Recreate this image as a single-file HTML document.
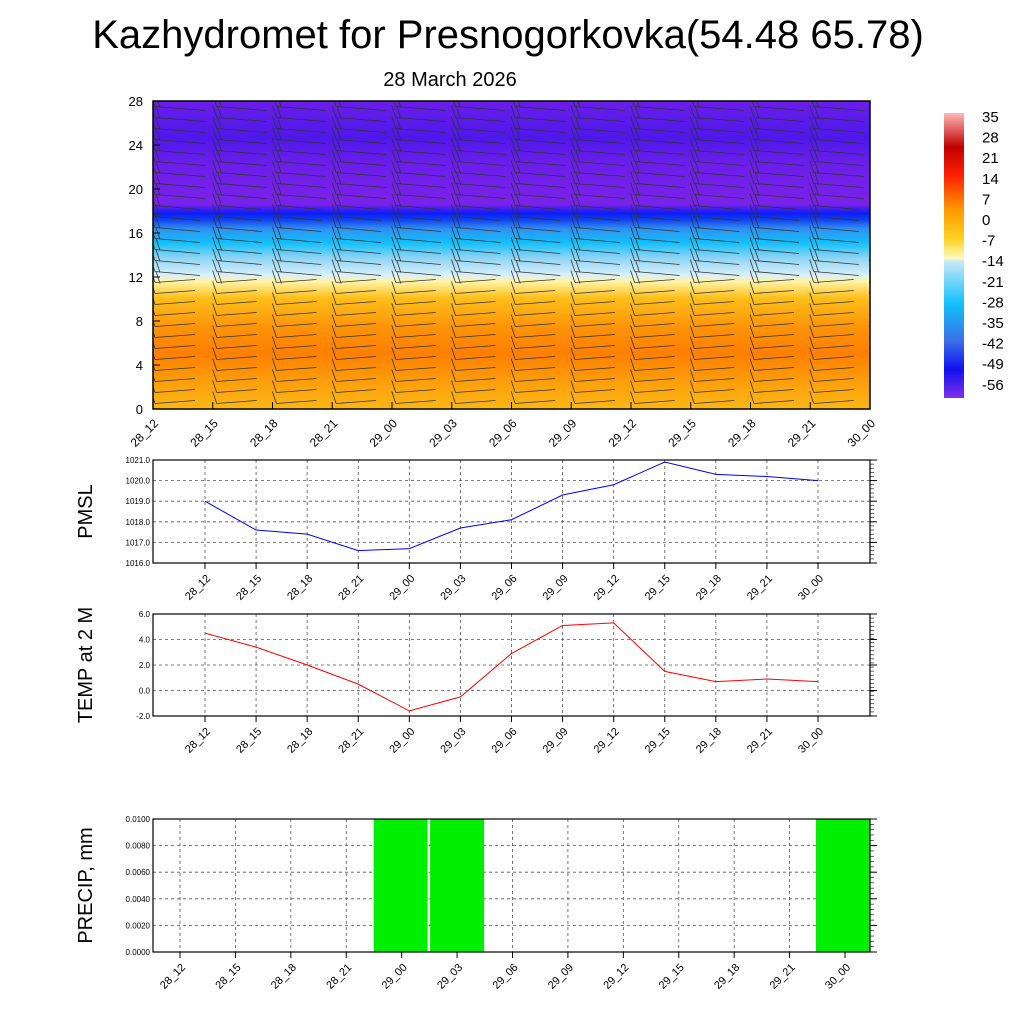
<!DOCTYPE html>
<html><head><meta charset="utf-8"><style>
body{margin:0;background:#fff;font-family:"Liberation Sans",sans-serif}
svg text{font-family:"Liberation Sans",sans-serif}
</style></head><body>
<svg id="c" width="1024" height="1024" xmlns="http://www.w3.org/2000/svg">
<defs>
<clipPath id="clipTop"><rect x="153" y="101" width="717" height="308"/></clipPath>
<linearGradient id="tg" x1="0" y1="1" x2="0" y2="0">
<stop offset="0" stop-color="#fbb716"/><stop offset="0.08" stop-color="#fca10c"/>
<stop offset="0.18" stop-color="#fe7f02"/><stop offset="0.26" stop-color="#fd9208"/>
<stop offset="0.36" stop-color="#fdbf1a"/><stop offset="0.415" stop-color="#fff4a8"/>
<stop offset="0.435" stop-color="#d8f0fa"/><stop offset="0.49" stop-color="#8fd4f5"/>
<stop offset="0.54" stop-color="#10c0fa"/><stop offset="0.585" stop-color="#3090f0"/>
<stop offset="0.615" stop-color="#1040f0"/><stop offset="0.635" stop-color="#0a1ef5"/>
<stop offset="0.665" stop-color="#7a22ea"/><stop offset="0.8" stop-color="#6a1eea"/>
<stop offset="0.88" stop-color="#4e18ea"/><stop offset="1" stop-color="#6a1eea"/>
</linearGradient>
<linearGradient id="cb" x1="0" y1="1" x2="0" y2="0">
<stop offset="0" stop-color="#8030e8"/><stop offset="0.1" stop-color="#1010f0"/>
<stop offset="0.2" stop-color="#3a70e8"/><stop offset="0.33" stop-color="#10c0fa"/>
<stop offset="0.48" stop-color="#c8e8f8"/><stop offset="0.49" stop-color="#fffac0"/>
<stop offset="0.56" stop-color="#ffd020"/><stop offset="0.66" stop-color="#ff9a00"/>
<stop offset="0.78" stop-color="#ff2000"/><stop offset="0.88" stop-color="#c00000"/>
<stop offset="1" stop-color="#ffb8b8"/>
</linearGradient>
</defs>
<text x="508" y="48" font-size="40" text-anchor="middle">Kazhydromet for Presnogorkovka(54.48 65.78)</text>
<text x="450" y="86" font-size="20" text-anchor="middle">28 March 2026</text>
<rect x="153" y="101" width="717" height="308" fill="url(#tg)"/>
<g id="barbs" clip-path="url(#clipTop)" stroke="#333" stroke-width="0.8" fill="none"></g>
<rect x="153" y="101" width="717" height="308" fill="none" stroke="#000" stroke-width="1.5"/>
<g id="topax"></g>
<rect x="944" y="113" width="20" height="285" fill="url(#cb)"/>
<g id="cbl" font-size="15"></g>
<g id="p1"></g><g id="p2"></g><g id="p3"></g>
</svg>
<script>
const xLabels=["28_12","28_15","28_18","28_21","29_00","29_03","29_06","29_09","29_12","29_15","29_18","29_21","30_00"];
const heightTicks=[0,4,8,12,16,20,24,28];
const cbLabels=[35,28,21,14,7,0,-7,-14,-21,-28,-35,-42,-49,-56];
const pmsl=[1019.0,1017.6,1017.4,1016.6,1016.7,1017.7,1018.1,1019.3,1019.8,1020.9,1020.3,1020.2,1020.0];
const temp2m=[4.5,3.4,2.0,0.5,-1.6,-0.5,2.9,5.1,5.3,1.5,0.7,0.9,0.7];
const precip=[0,0,0,0,0.01,0.01,0,0,0,0,0,0,0.01];
const pmslTicks=[1016,1017,1018,1019,1020,1021];
const tempTicks=[-2,0,2,4,6];
const precipTicks=[0,0.002,0.004,0.006,0.008,0.01];
const NS="http://www.w3.org/2000/svg";
function mk(p,t,a,txt){const e=document.createElementNS(NS,t);for(const k in a)e.setAttribute(k,a[k]);if(txt!==undefined)e.textContent=txt;p.appendChild(e);return e;}
const ta=document.getElementById('topax');
const yTop=v=>409-v/28*308;
heightTicks.forEach(v=>{const t=mk(ta,'text',{x:143,y:yTop(v)+5,'font-size':13,'text-anchor':'end'},v);


mk(ta,'line',{x1:153,x2:160,y1:yTop(v),y2:yTop(v),stroke:'#000'});});
xLabels.forEach((l,i)=>{const x=153+i*717/12;mk(ta,'line',{x1:x,x2:x,y1:409,y2:402,stroke:'#000'});
const t=mk(ta,'text',{x:x+6,y:424,'font-size':12,'text-anchor':'end',transform:`rotate(-45 ${x+6} 424)`},l);

});
const bg=document.getElementById('barbs');
for(let c=0;c<13;c++){const x=155+c*59.7+(c?2:0);
 for(let h=0;h<28;h++){const y=yTop(h+0.5);
  const len=h<12?40:(h<19?45:50);
  mk(bg,'line',{x1:x,y1:y,x2:x+len,y2:y+(h<12?-3:4)});
  mk(bg,'line',{x1:x,y1:y,x2:x-4,y2:y-12});
  if(h>10)mk(bg,'line',{x1:x+5,y1:y+1,x2:x+1,y2:y-11});}}
const cl=document.getElementById('cbl');
cbLabels.forEach((v,i)=>{const t=mk(cl,'text',{x:982,y:122+i*20.6},v);

});
function panel(g,top,bot,ticks,fmt,label,xs0,xstep,name){
 const G=document.getElementById(g);
 const ymin=ticks[0],ymax=ticks[ticks.length-1];
 const Y=v=>bot-(v-ymin)/(ymax-ymin)*(bot-top);
 ticks.forEach(v=>{const y=Y(v);
  mk(G,'line',{x1:153,x2:870,y1:y,y2:y,stroke:'#555','stroke-dasharray':'3,3','stroke-width':0.8});
  mk(G,'line',{x1:870,x2:877,y1:y,y2:y,stroke:'#000'});
  const t=mk(G,'text',{x:150,y:y+3,'font-size':8,'text-anchor':'end'},fmt(v));
  
  });
 for(let k=0;k<=25;k++){const y=top+(bot-top)*k/25;mk(G,'line',{x1:870,x2:874,y1:y,y2:y,stroke:'#000','stroke-width':0.6});}
 xLabels.forEach((l,i)=>{const x=xs0+i*xstep;
  mk(G,'line',{x1:x,x2:x,y1:top,y2:bot,stroke:'#555','stroke-dasharray':'3,3','stroke-width':0.8});
  mk(G,'line',{x1:x,x2:x,y1:bot,y2:bot+6,stroke:'#000'});
  const t=mk(G,'text',{x:x+6,y:bot+16,'font-size':11,'text-anchor':'end',transform:`rotate(-45 ${x+6} ${bot+16})`},l);
  
  });
 const yl=mk(G,'text',{x:0,y:0,'font-size':20,'text-anchor':'middle',transform:`translate(92 ${(top+bot)/2}) rotate(-90)`},label);
 
 
 return {G,Y};
}
let P=panel('p1',460,563,pmslTicks,v=>v.toFixed(1),'PMSL',205,613/12,'pmsl');
let pts=pmsl.map((v,i)=>(205+i*613/12)+','+P.Y(v)).join(' ');
let l=mk(P.G,'polyline',{points:pts,fill:'none',stroke:'#0000ff','stroke-width':1});


mk(P.G,'rect',{x:153,y:460,width:717,height:103,fill:'none',stroke:'#000','stroke-width':1.2});
P=panel('p2',614,716,tempTicks,v=>v.toFixed(1),'TEMP at 2 M',205,613/12,'temp');
pts=temp2m.map((v,i)=>(205+i*613/12)+','+P.Y(v)).join(' ');
l=mk(P.G,'polyline',{points:pts,fill:'none',stroke:'#ff0000','stroke-width':1});


mk(P.G,'rect',{x:153,y:614,width:717,height:102,fill:'none',stroke:'#000','stroke-width':1.2});
P=panel('p3',819,952,precipTicks,v=>v.toFixed(4),'PRECIP, mm',180,665/12,'precip');
precip.forEach((v,i)=>{if(v<=0)return;const cx=180+i*665/12+(i==4?-1:i==5?0:-2);const y=P.Y(Math.min(v,0.01));
 const r=mk(P.G,'rect',{x:cx-27,y:y,width:54,height:952-y,fill:'#00ee00'});
 
 });
mk(P.G,'rect',{x:153,y:819,width:717,height:133,fill:'none',stroke:'#000','stroke-width':1.2});
</script>
</body></html>
